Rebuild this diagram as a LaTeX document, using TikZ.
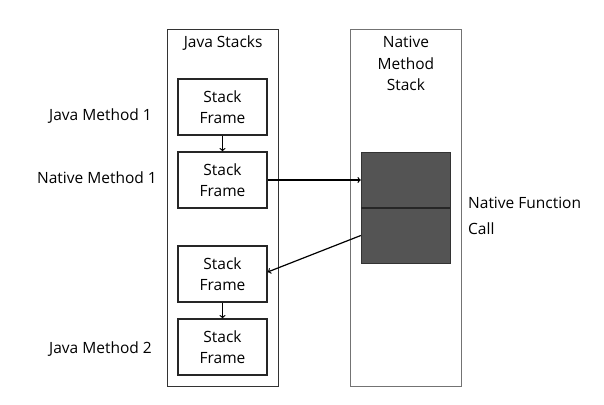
\documentclass[tikz,border=0pt]{standalone}
\usepackage{fontspec}
\setmainfont{Open Sans}
\usepackage{tikz}
\usetikzlibrary{positioning}

\begin{document}
\begin{tikzpicture}[x=1pt, y=-1pt, node distance=73pt, font=\fontsize{15.5}{21.5}\selectfont]
			\tikzstyle{stack} = [draw, minimum width=111pt, minimum height=357pt, inner sep=0pt, anchor=north west]
			\tikzstyle{frame} = [draw, line width=1.3pt, black!85, text=black, minimum width=89pt, minimum height=56pt, inner sep=0pt, align=center]
			\tikzstyle{native} = [draw=black!80, fill=black!67, minimum width=89pt, minimum height=55.5pt, inner sep=0pt]
			\tikzstyle{label} = [inner sep=0pt, anchor=east]
			\useasboundingbox (0,0) rectangle (604,404);
			\begin{scope}
			% the two stacks
			\node[stack, line width=1.3pt, black!80] (js) at (167,29) {};
			\node[stack, line width=0.9pt, black!55] (ns) at (350,29) {};
			\node[below=7pt of js.north, inner sep=0pt, text=black] (jst) {Java Stacks};
			\node[below=7pt of ns.north, inner sep=0pt, align=center] (nst) {Native\\Method\\Stack};
			% frames
			\node[frame] (f1) at (222.5,107) {Stack\\Frame};
			\node[frame, below of=f1] (f2) {Stack\\Frame};
			\node[frame] (f3) at (222.5,274) {Stack\\Frame};
			\node[frame, below of=f3] (f4) {Stack\\Frame};
			\node[native] (n1) at (405.5,180) {};
			\node[native] (n2) at (405.5,235.5) {};
			\draw[black!85, line width=1.2pt] (n1.south west) -- (n1.south east);
			% labels
			\node[label] (l1) at (152,116) {Java Method 1};
			\node[label] (l2) at (157,178) {Native Method 1};
			\node[label] (l3) at (152,349) {Java Method 2};
			\node[inner sep=0pt, anchor=west] (l4) at (468,203) {Native Function};
			\node[inner sep=0pt, anchor=west] (l5) at (468,229) {Call};
			\path[->, line width=1.2pt]
			(f1) edge (f2)
			(f3) edge (f4)
			(f2.east) edge (n1.west)
			(n2.west) edge ([yshift=2pt]f3.east)
			;
			\end{scope}
\end{tikzpicture}
\end{document}
